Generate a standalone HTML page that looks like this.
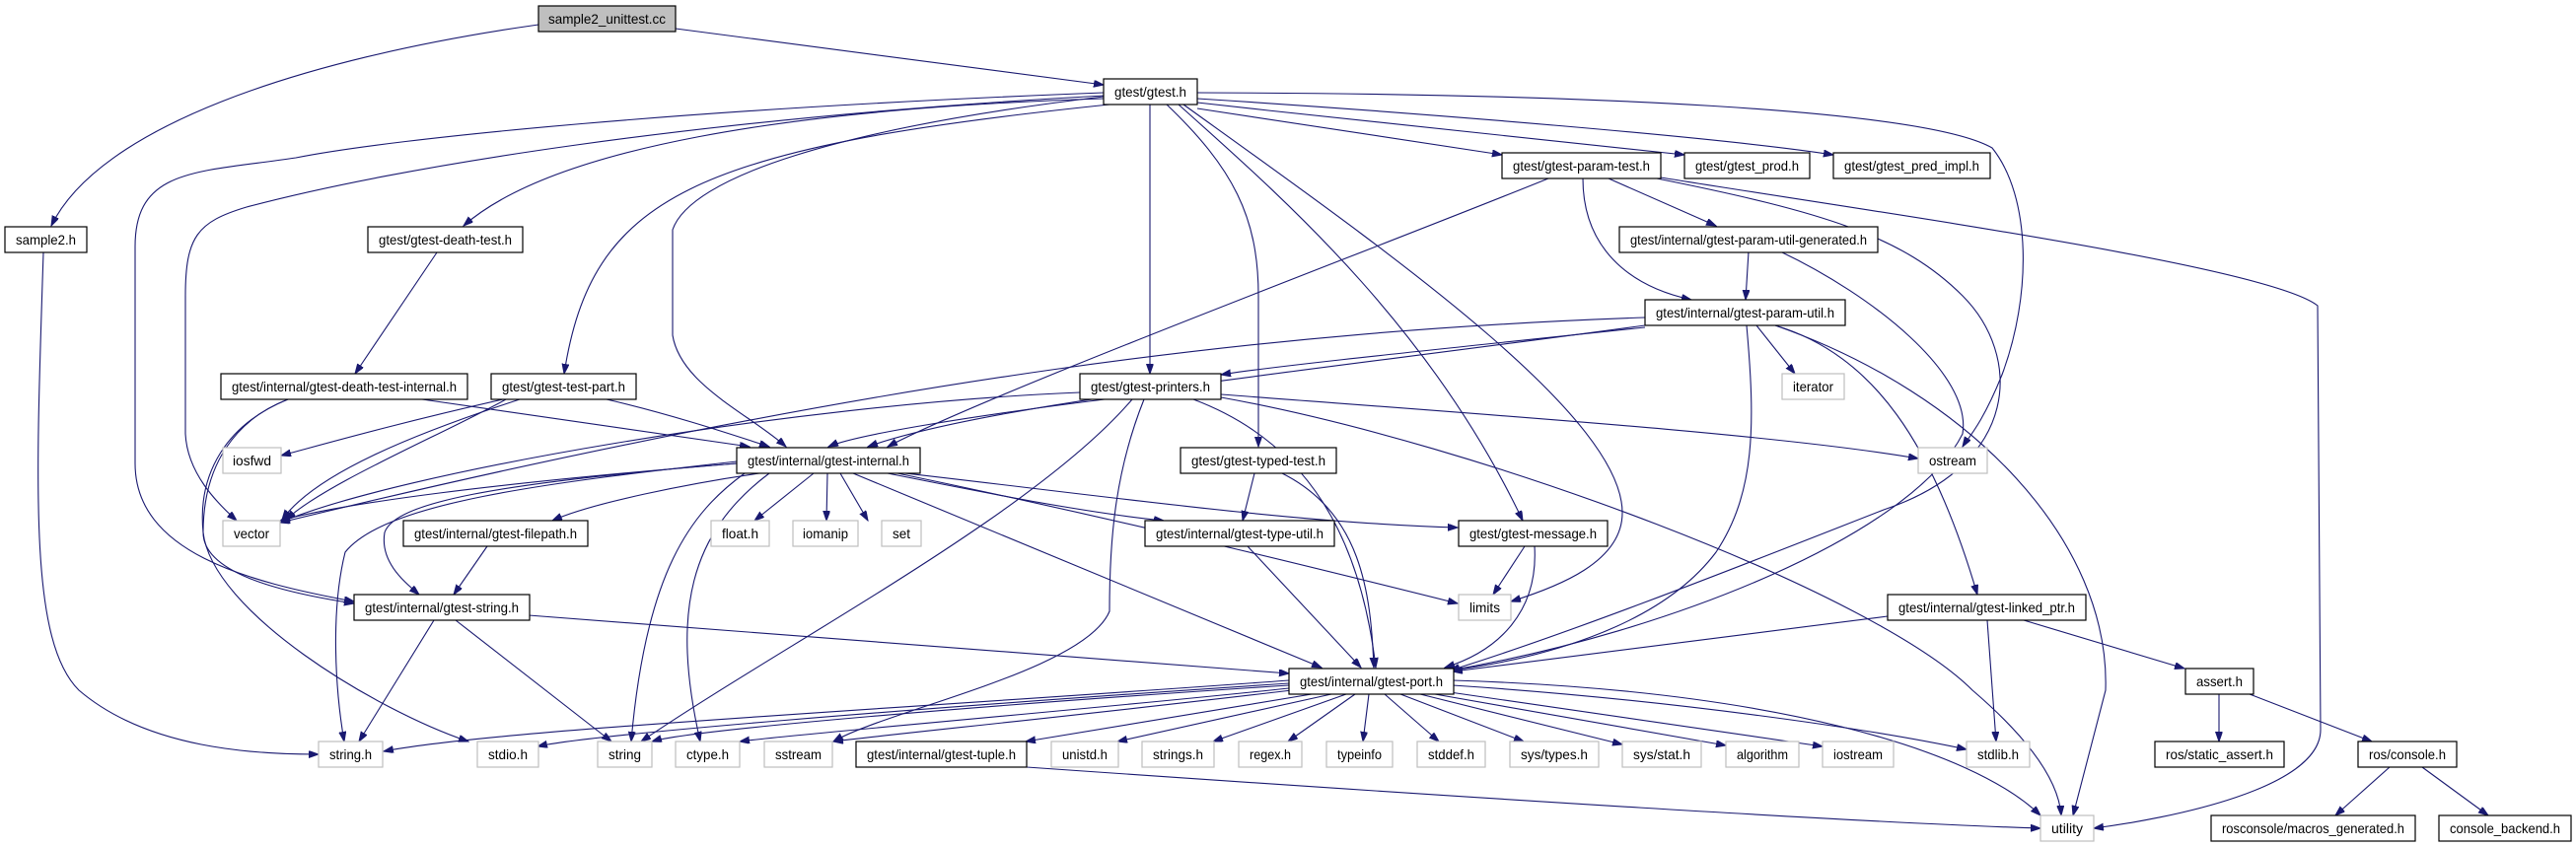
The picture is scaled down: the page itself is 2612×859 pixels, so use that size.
<!DOCTYPE html>
<html><head><meta charset="utf-8"><style>
html,body{margin:0;padding:0;background:#fff;}
svg{display:block}
text{font-family:"Liberation Sans",sans-serif;font-size:14px;fill:#000;text-anchor:middle}
.e{fill:none;stroke:#191970;stroke-width:1.1}
.n{fill:#fff;stroke:#000;stroke-width:1.2}
.g{fill:#fff;stroke:#bfbfbf;stroke-width:1.2}
</style></head><body>
<svg width="2612" height="859" viewBox="0 0 2612 859" xmlns="http://www.w3.org/2000/svg">
<defs><marker id="a" markerUnits="userSpaceOnUse" markerWidth="11" markerHeight="8" refX="10" refY="3.5" orient="auto"><path d="M0,0 L10,3.5 L0,7 z" fill="#191970" stroke="#191970"/></marker></defs>
<g class="e" marker-end="url(#a)">
<path d="M546,25 C300,60 100,130 52,229"/>
<path d="M685,29 L1119,86"/>
<path d="M44,256 C36,500 30,650 80,700 C150,760 260,765 323,765"/>
<path d="M1119,94 C700,110 400,140 300,160 C200,175 137,170 137,250 L137,470 C137,560 250,590 359,610"/>
<path d="M1119,97 C700,120 400,170 250,210 C200,225 188,240 188,300 L188,440 C190,480 220,510 240,528"/>
<path d="M1119,100 C800,110 560,150 470,229"/>
<path d="M1125,106 C700,150 600,200 572,379"/>
<path d="M1119,98 C850,130 700,180 682,233 L682,340 C690,390 760,420 797,453"/>
<path d="M1166,106 L1166,379"/>
<path d="M1183,106 C1250,170 1276,220 1276,300 L1276,453"/>
<path d="M1195,106 C1300,200 1450,330 1544,528"/>
<path d="M1200,106 C1400,250 1645,420 1645,520 C1645,570 1580,595 1532,610"/>
<path d="M1214,110 C1350,130 1450,145 1523,157"/>
<path d="M1214,104 C1400,125 1600,145 1708,157"/>
<path d="M1214,100 C1450,115 1750,140 1859,157"/>
<path d="M1214,94 C1600,95 1950,110 2020,150 C2060,200 2060,300 2030,380 C2010,430 1995,445 1990,453"/>
<path d="M443,256 L360,379"/>
<path d="M428,405 C600,430 700,445 760,453"/>
<path d="M292,405 C240,425 206,470 206,540 C206,580 280,600 359,612"/>
<path d="M292,405 C230,430 200,480 206,540 C215,620 380,720 475,752"/>
<path d="M510,405 C400,430 330,450 285,462"/>
<path d="M527,405 C420,440 320,480 286,527"/>
<path d="M513,405 C450,440 330,490 290,527"/>
<path d="M615,405 C680,420 740,440 780,453"/>
<path d="M1120,405 C1000,420 870,440 840,453"/>
<path d="M1095,398 C800,410 400,480 284,530"/>
<path d="M1238,400 C1500,420 1800,440 1945,465"/>
<path d="M1148,405 C1050,520 800,650 650,752"/>
<path d="M1160,405 C1130,480 1125,550 1125,620 C1100,680 900,720 845,752"/>
<path d="M1210,405 C1330,450 1380,550 1395,677"/>
<path d="M1238,403 C1500,450 1900,600 2000,700 C2070,760 2088,800 2090,827"/>
<path d="M1570,181 C1400,250 1000,400 900,453"/>
<path d="M1631,181 L1740,229"/>
<path d="M1605,181 C1605,250 1650,290 1715,304"/>
<path d="M1680,181 C1850,215 1930,240 1990,300 C2050,360 2050,470 1910,517 C1800,560 1600,640 1470,680"/>
<path d="M1684,180 C1900,215 2300,270 2350,310 L2353,740 C2353,800 2200,830 2123,840"/>
<path d="M1773,255 L1770,304"/>
<path d="M1805,255 C1900,300 2000,380 1990,440 C1940,540 1700,640 1470,680"/>
<path d="M1781,330 L1820,379"/>
<path d="M1668,322 C1300,335 900,380 284,530"/>
<path d="M1668,330 C1300,380 1000,410 880,453"/>
<path d="M1668,332 C1500,350 1300,370 1238,380"/>
<path d="M1800,330 C1900,360 1960,450 2005,603"/>
<path d="M1771,330 C1780,430 1780,500 1740,560 C1680,640 1550,670 1470,680"/>
<path d="M1800,330 C2000,400 2140,550 2135,700 L2102,827"/>
<path d="M825,480 L765,528"/>
<path d="M839,480 L838,528"/>
<path d="M852,480 L880,528"/>
<path d="M770,480 C700,490 600,510 560,528"/>
<path d="M747,470 C500,490 400,510 390,540 C385,570 410,590 425,603"/>
<path d="M747,468 C550,490 390,510 350,560 C335,620 340,700 349,752"/>
<path d="M747,470 C500,490 350,510 284,528"/>
<path d="M780,480 C700,540 680,620 710,752"/>
<path d="M755,480 C700,520 655,580 640,752"/>
<path d="M900,480 C1000,500 1100,520 1180,528"/>
<path d="M865,480 L1340,677"/>
<path d="M874,475 C1100,500 1300,530 1478,535"/>
<path d="M910,480 C1150,530 1350,580 1478,612"/>
<path d="M1272,480 L1260,528"/>
<path d="M1300,480 C1380,520 1390,600 1393,677"/>
<path d="M1265,554 L1380,677"/>
<path d="M1546,554 L1514,603"/>
<path d="M1556,554 C1560,620 1520,660 1465,677"/>
<path d="M494,554 L460,603"/>
<path d="M440,629 L364,752"/>
<path d="M462,629 L620,752"/>
<path d="M536,624 L1307,683"/>
<path d="M1914,625 L1473,681"/>
<path d="M2015,629 L2024,752"/>
<path d="M2052,629 L2215,678"/>
<path d="M2250,704 L2250,752"/>
<path d="M2281,704 L2405,752"/>
<path d="M2423,778 L2368,827"/>
<path d="M2456,778 L2523,827"/>
<path d="M1041,778 C1500,810 1900,835 2069,840"/>
<path d="M1307,690 C900,720 500,740 389,762"/>
<path d="M1307,693 C900,720 600,745 545,757"/>
<path d="M1307,695 C1000,715 700,740 661,752"/>
<path d="M1307,698 C1100,720 800,745 750,752"/>
<path d="M1310,700 C1100,725 900,745 845,752"/>
<path d="M1330,704 L1040,752"/>
<path d="M1350,704 L1133,752"/>
<path d="M1365,704 L1230,752"/>
<path d="M1374,704 L1306,752"/>
<path d="M1388,704 L1382,752"/>
<path d="M1404,704 L1459,752"/>
<path d="M1420,704 L1545,752"/>
<path d="M1440,704 L1645,755"/>
<path d="M1455,704 L1750,756"/>
<path d="M1470,702 L1848,757"/>
<path d="M1473,695 C1700,710 1900,740 1994,760"/>
<path d="M1473,690 C1800,700 2000,760 2069,827"/>
</g>
<g>
<rect x="546" y="6" width="139" height="26" fill="#bfbfbf" stroke="#000" stroke-width="1.2"/><text x="615.5" y="24" textLength="119" lengthAdjust="spacingAndGlyphs">sample2_unittest.cc</text>
<rect class="n" x="1119" y="80" width="95" height="26"/><text x="1166.5" y="98" textLength="73" lengthAdjust="spacingAndGlyphs">gtest/gtest.h</text>
<rect class="n" x="1523" y="155" width="161" height="26"/><text x="1603.5" y="173" textLength="139" lengthAdjust="spacingAndGlyphs">gtest/gtest-param-test.h</text>
<rect class="n" x="1708" y="155" width="127" height="26"/><text x="1771.5" y="173" textLength="105" lengthAdjust="spacingAndGlyphs">gtest/gtest_prod.h</text>
<rect class="n" x="1859" y="155" width="159" height="26"/><text x="1938.5" y="173" textLength="137" lengthAdjust="spacingAndGlyphs">gtest/gtest_pred_impl.h</text>
<rect class="n" x="5" y="230" width="83" height="26"/><text x="46.5" y="248" textLength="61" lengthAdjust="spacingAndGlyphs">sample2.h</text>
<rect class="n" x="373" y="230" width="157" height="26"/><text x="451.5" y="248" textLength="135" lengthAdjust="spacingAndGlyphs">gtest/gtest-death-test.h</text>
<rect class="n" x="1642" y="230" width="262" height="26"/><text x="1773" y="248" textLength="240" lengthAdjust="spacingAndGlyphs">gtest/internal/gtest-param-util-generated.h</text>
<rect class="n" x="1668" y="304" width="203" height="26"/><text x="1769.5" y="322" textLength="181" lengthAdjust="spacingAndGlyphs">gtest/internal/gtest-param-util.h</text>
<rect class="n" x="224" y="379" width="250" height="26"/><text x="349" y="397" textLength="228" lengthAdjust="spacingAndGlyphs">gtest/internal/gtest-death-test-internal.h</text>
<rect class="n" x="498" y="379" width="147" height="26"/><text x="571.5" y="397" textLength="125" lengthAdjust="spacingAndGlyphs">gtest/gtest-test-part.h</text>
<rect class="n" x="1095" y="379" width="143" height="26"/><text x="1166.5" y="397" textLength="121" lengthAdjust="spacingAndGlyphs">gtest/gtest-printers.h</text>
<rect class="g" x="1807" y="379" width="63" height="26"/><text x="1838.5" y="397" textLength="41" lengthAdjust="spacingAndGlyphs">iterator</text>
<rect class="g" x="226" y="454" width="59" height="26"/><text x="255.5" y="472" textLength="39" lengthAdjust="spacingAndGlyphs">iosfwd</text>
<rect class="n" x="747" y="454" width="186" height="26"/><text x="840" y="472" textLength="164" lengthAdjust="spacingAndGlyphs">gtest/internal/gtest-internal.h</text>
<rect class="n" x="1197" y="454" width="158" height="26"/><text x="1276" y="472" textLength="136" lengthAdjust="spacingAndGlyphs">gtest/gtest-typed-test.h</text>
<rect class="g" x="1945" y="454" width="70" height="26"/><text x="1980" y="472" textLength="48" lengthAdjust="spacingAndGlyphs">ostream</text>
<rect class="g" x="226" y="528" width="58" height="26"/><text x="255" y="546" textLength="36" lengthAdjust="spacingAndGlyphs">vector</text>
<rect class="n" x="409" y="528" width="187" height="26"/><text x="502.5" y="546" textLength="165" lengthAdjust="spacingAndGlyphs">gtest/internal/gtest-filepath.h</text>
<rect class="g" x="721" y="528" width="59" height="26"/><text x="750.5" y="546" textLength="37" lengthAdjust="spacingAndGlyphs">float.h</text>
<rect class="g" x="804" y="528" width="66" height="26"/><text x="837" y="546" textLength="46" lengthAdjust="spacingAndGlyphs">iomanip</text>
<rect class="g" x="894" y="528" width="40" height="26"/><text x="914" y="546" textLength="18" lengthAdjust="spacingAndGlyphs">set</text>
<rect class="n" x="1161" y="528" width="192" height="26"/><text x="1257" y="546" textLength="170" lengthAdjust="spacingAndGlyphs">gtest/internal/gtest-type-util.h</text>
<rect class="n" x="1479" y="528" width="151" height="26"/><text x="1554.5" y="546" textLength="129" lengthAdjust="spacingAndGlyphs">gtest/gtest-message.h</text>
<rect class="n" x="359" y="603" width="178" height="26"/><text x="448" y="621" textLength="156" lengthAdjust="spacingAndGlyphs">gtest/internal/gtest-string.h</text>
<rect class="g" x="1479" y="603" width="53" height="26"/><text x="1505.5" y="621" textLength="31" lengthAdjust="spacingAndGlyphs">limits</text>
<rect class="n" x="1914" y="603" width="201" height="26"/><text x="2014.5" y="621" textLength="179" lengthAdjust="spacingAndGlyphs">gtest/internal/gtest-linked_ptr.h</text>
<rect class="n" x="1307" y="678" width="167" height="26"/><text x="1390.5" y="696" textLength="145" lengthAdjust="spacingAndGlyphs">gtest/internal/gtest-port.h</text>
<rect class="n" x="2216" y="678" width="69" height="26"/><text x="2250.5" y="696" textLength="47" lengthAdjust="spacingAndGlyphs">assert.h</text>
<rect class="g" x="323" y="752" width="65" height="26"/><text x="355.5" y="770" textLength="43" lengthAdjust="spacingAndGlyphs">string.h</text>
<rect class="g" x="484" y="752" width="62" height="26"/><text x="515" y="770" textLength="40" lengthAdjust="spacingAndGlyphs">stdio.h</text>
<rect class="g" x="606" y="752" width="55" height="26"/><text x="633.5" y="770" textLength="33" lengthAdjust="spacingAndGlyphs">string</text>
<rect class="g" x="685" y="752" width="65" height="26"/><text x="717.5" y="770" textLength="43" lengthAdjust="spacingAndGlyphs">ctype.h</text>
<rect class="g" x="775" y="752" width="69" height="26"/><text x="809.5" y="770" textLength="47" lengthAdjust="spacingAndGlyphs">sstream</text>
<rect class="n" x="868" y="752" width="173" height="26"/><text x="954.5" y="770" textLength="151" lengthAdjust="spacingAndGlyphs">gtest/internal/gtest-tuple.h</text>
<rect class="g" x="1066" y="752" width="68" height="26"/><text x="1100" y="770" textLength="46" lengthAdjust="spacingAndGlyphs">unistd.h</text>
<rect class="g" x="1158" y="752" width="73" height="26"/><text x="1194.5" y="770" textLength="51" lengthAdjust="spacingAndGlyphs">strings.h</text>
<rect class="g" x="1256" y="752" width="64" height="26"/><text x="1288" y="770" textLength="42" lengthAdjust="spacingAndGlyphs">regex.h</text>
<rect class="g" x="1345" y="752" width="67" height="26"/><text x="1378.5" y="770" textLength="45" lengthAdjust="spacingAndGlyphs">typeinfo</text>
<rect class="g" x="1437" y="752" width="69" height="26"/><text x="1471.5" y="770" textLength="47" lengthAdjust="spacingAndGlyphs">stddef.h</text>
<rect class="g" x="1531" y="752" width="90" height="26"/><text x="1576" y="770" textLength="68" lengthAdjust="spacingAndGlyphs">sys/types.h</text>
<rect class="g" x="1645" y="752" width="80" height="26"/><text x="1685" y="770" textLength="58" lengthAdjust="spacingAndGlyphs">sys/stat.h</text>
<rect class="g" x="1750" y="752" width="74" height="26"/><text x="1787" y="770" textLength="52" lengthAdjust="spacingAndGlyphs">algorithm</text>
<rect class="g" x="1848" y="752" width="72" height="26"/><text x="1884" y="770" textLength="50" lengthAdjust="spacingAndGlyphs">iostream</text>
<rect class="g" x="1994" y="752" width="64" height="26"/><text x="2026" y="770" textLength="42" lengthAdjust="spacingAndGlyphs">stdlib.h</text>
<rect class="n" x="2185" y="752" width="131" height="26"/><text x="2250.5" y="770" textLength="109" lengthAdjust="spacingAndGlyphs">ros/static_assert.h</text>
<rect class="n" x="2391" y="752" width="100" height="26"/><text x="2441" y="770" textLength="78" lengthAdjust="spacingAndGlyphs">ros/console.h</text>
<rect class="g" x="2069" y="827" width="54" height="26"/><text x="2096" y="845" textLength="32" lengthAdjust="spacingAndGlyphs">utility</text>
<rect class="n" x="2242" y="827" width="207" height="26"/><text x="2345.5" y="845" textLength="185" lengthAdjust="spacingAndGlyphs">rosconsole/macros_generated.h</text>
<rect class="n" x="2473" y="827" width="134" height="26"/><text x="2540" y="845" textLength="112" lengthAdjust="spacingAndGlyphs">console_backend.h</text>
</g>
</svg>
</body></html>
